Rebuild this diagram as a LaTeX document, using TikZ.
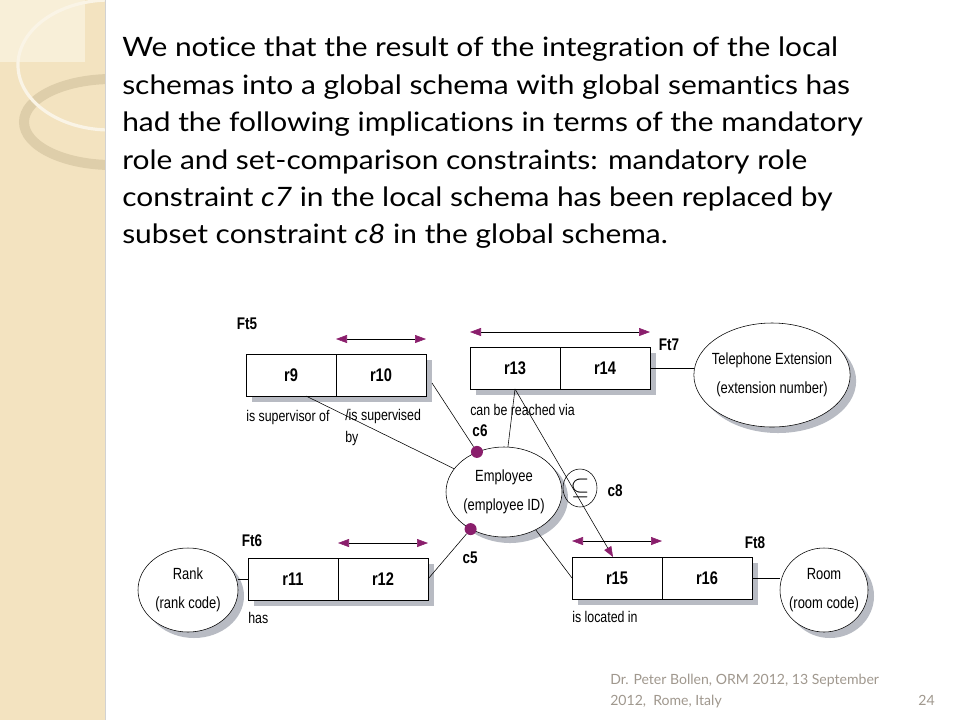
\documentclass[tikz,border=0pt]{standalone}
\usepackage{fontspec}
\setmainfont{Lato}[Ligatures=NoCommon]
\newfontfamily\introfont[FakeStretch=1.12,Ligatures=NoCommon]{Lato}
\newfontfamily\ormfont[FakeStretch=0.8]{Liberation Sans}
\usepackage{tikz}
\usetikzlibrary{positioning}
\usetikzlibrary{arrows.meta,shapes.geometric,shadows}
\definecolor{ormpurple}{RGB}{138,30,108}
\definecolor{ormshadow}{RGB}{184,187,195}
\definecolor{stripbeige}{RGB}{243,227,192}
\definecolor{striplight}{RGB}{248,239,216}
\definecolor{ringtan}{RGB}{222,206,170}
\definecolor{footgray}{RGB}{160,152,142}
\begin{document}
\begin{tikzpicture}[x=0.25mm,y=-0.25mm,
    role/.style={draw,fill=white,minimum width=22.5mm,minimum height=10.5mm,node distance=0pt,outer sep=0pt,inner sep=0pt,
        font=\ormfont\fontsize{13}{15}\selectfont\bfseries,drop shadow={shadow xshift=1.5mm,shadow yshift=-1.5mm,fill=ormshadow,opacity=1}},
    ent/.style={ellipse,draw,fill=white,inner xsep=-1.2mm,inner ysep=0pt,align=center,font=\ormfont\fontsize{11.5}{20.6}\selectfont,
        drop shadow={shadow xshift=1.5mm,shadow yshift=-1.5mm,fill=ormshadow,opacity=1}},
    lbl/.style={inner sep=0pt,font=\ormfont\fontsize{11}{15.6}\selectfont},
    tag/.style={inner sep=0pt,font=\ormfont\fontsize{12}{14}\selectfont\bfseries},
    mand/.style={circle,fill=ormpurple,inner sep=0pt,minimum size=3mm},
    uc/.style={{Triangle[length=2.75mm,width=2mm,color=ormpurple]}-{Triangle[length=2.75mm,width=2mm,color=ormpurple]}},
    sub/.style={-{Triangle[length=2.6mm,width=2mm,color=ormpurple]}}]
    \useasboundingbox (0,0) rectangle (960,720);
    \fill[white] (0,0) rectangle (960,720);
    %
    \fill[stripbeige] (0,0) rectangle (105,720);
    \fill[striplight] (0,0) rectangle (85,62);
    \begin{scope}
        \clip (0,0) rectangle (105,720);
        \draw[ringtan,line width=2.5mm] (112,122) ellipse [x radius=88,y radius=43];
        \draw[white!60!stripbeige,line width=0.8mm] (110,65) ellipse [x radius=92,y radius=65];
    \end{scope}
    \draw[gray!35] (105,0) -- (105,720);
    %
    \node[anchor=north west,inner sep=0pt,align=left,font=\introfont\fontsize{19}{26.6}\selectfont](intro) at (122,37){We notice that the result of the integration of the local\\
        schemas into a global schema with global semantics has\\
        had the following implications in terms of the mandatory\\
        role and set-comparison constraints: mandatory role\\
        constraint \textit{c7} in the local schema has been replaced by\\
        subset constraint \textit{c8} in the global schema.};
    %
    \node[tag](ft5) at (247,324){Ft5};
    \node[role,anchor=north west](r9) at (246,354){r9};
    \node[role,right=of r9,anchor=west](r10){r10};
    \draw[uc] ([yshift=3.75mm]r10.north west) -- ([yshift=3.75mm]r10.north east);
    \node[lbl,anchor=base west](r9txt) at (246,421){is supervisor of};
    \node[lbl,anchor=north west,align=left](r10txt) at (345,409){/is supervised\\by};
    %
    \node[role,anchor=north west](r13) at (470,347){r13};
    \node[role,right=of r13,anchor=west](r14){r14};
    \draw[uc] ([yshift=3.75mm]r13.north west) -- ([yshift=3.75mm]r14.north east);
    \node[tag](ft7) at (669,345){Ft7};
    \node[lbl,anchor=base west](r13txt) at (470,415){can be reached via};
    %
    \node[tag](ft6) at (252,541){Ft6};
    \node[role,anchor=north west](r11) at (248,558){r11};
    \node[role,right=of r11,anchor=west](r12){r12};
    \draw[uc] ([yshift=3.75mm]r12.north west) -- ([yshift=3.75mm]r12.north east);
    \node[lbl,anchor=base west](r11txt) at (248,623){has};
    %
    \node[tag](ft8) at (755,543){Ft8};
    \node[role,anchor=north west](r15) at (572,557){r15};
    \node[role,right=of r15,anchor=west](r16){r16};
    \draw[uc] ([yshift=4mm]r15.north west) -- ([yshift=4mm]r15.north east);
    \node[lbl,anchor=base west](r15txt) at (572,622){is located in};
    %
    \node[ent,minimum width=29mm,minimum height=22.5mm](emp) at (504,492){Employee\\(employee ID)};
    \node[ent,minimum width=39mm,minimum height=26mm](tel) at (772,375){Telephone Extension\\(extension number)};
    \node[ent,minimum width=25mm,minimum height=21mm](rank) at (188,590){Rank\\(rank code)};
    \node[ent,minimum width=22mm,minimum height=21mm](room) at (824,590){Room\\(room code)};
    %
    \draw (r11.west) -- (rank.east |- r11.west);
    \draw (r14.east) -- (tel.west |- r14.east);
    \draw (r16.east) -- (room.west |- r16.east);
    %
    \node[mand](c6dot) at (emp.124){};
    \node[mand](c5dot) at (emp.228){};
    \node[tag](c6) at (480,431){c6};
    \node[tag](c5) at (470,558){c5};
    \draw ([xshift=3.75mm]r9.south) -- (emp.155);
    \draw ([xshift=1.5mm,yshift=-2mm]r10.east) -- (c6dot);
    \draw (r12.east) -- (c5dot);
    \draw (r13.south) -- (emp.85);
    \draw (emp.-50) -- (r15.west);
    %
    \node[ellipse,draw,minimum width=8.5mm,minimum height=9.5mm,inner sep=0pt,font=\fontsize{16}{16}\selectfont](c8sym) at (580,488){$\subseteq$};
    \node[tag](c8) at (615,491){c8};
    \draw[sub] (r13.south) -- ([xshift=-1mm]r15.north);
    %
    \node[anchor=north west,inner sep=0pt,align=left,text=footgray,font=\fontsize{10}{15}\selectfont](foot) at (610,674){Dr. Peter Bollen, ORM 2012, 13 September\\2012,\ \ Rome, Italy};
    \node[anchor=base east,inner sep=0pt,text=footgray,font=\fontsize{10}{15}\selectfont](page) at (935,705){24};
\end{tikzpicture}
\end{document}
